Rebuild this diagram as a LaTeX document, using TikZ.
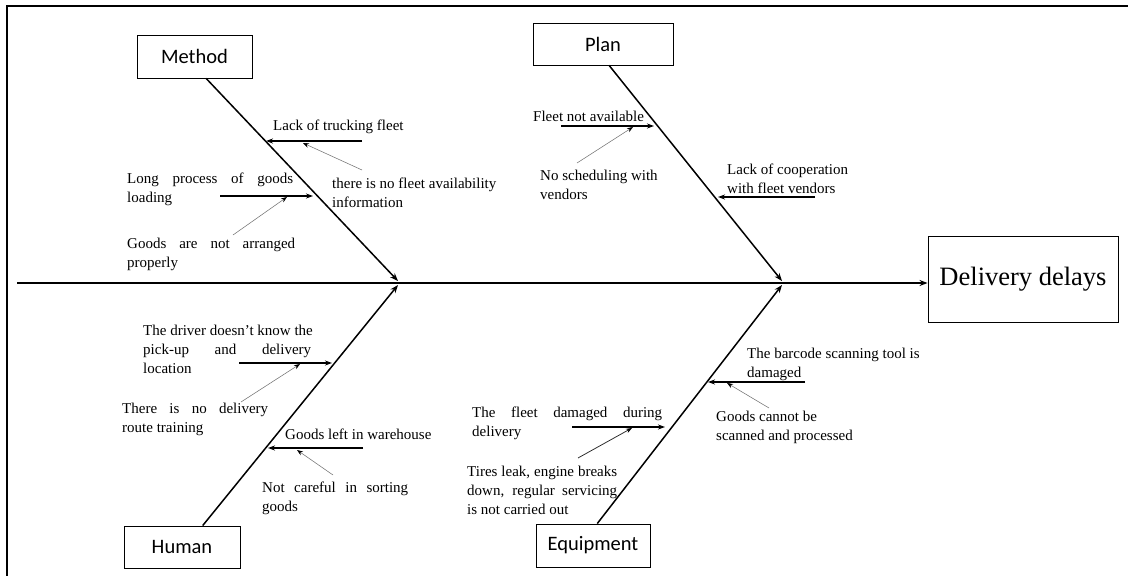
\documentclass[tikz,border=0pt]{standalone}
\usepackage{fontspec}
\setmainfont{Liberation Serif}
\newfontfamily\labelsans{Carlito}
\usetikzlibrary{arrows.meta}
% a line stretched to a given width (justified line)
\newcommand{\jline}[2]{\makebox[#1][s]{#2}}

\begin{document}
\begin{tikzpicture}[x=1pt,y=-1pt,
  catbox/.style={draw, line width=0.9pt, inner sep=0pt,
    font=\labelsans\fontsize{20.5}{24}\selectfont},
  effectbox/.style={draw, line width=0.9pt, inner sep=0pt,
    font=\fontsize{26.5}{30}\selectfont},
  % multi-line labels sit on the baseline of their last line
  cause/.style={anchor=base west, inner sep=0pt, align=left,
    font=\fontsize{15}{19}\selectfont},
  spine/.style={line width=1.5pt, -{Stealth[length=8pt,width=6pt]}},
  bone/.style={line width=1.5pt, -{Stealth[length=8pt,width=6pt]}},
  sub/.style={line width=1.4pt, -{Stealth[length=7pt,width=5pt]}},
  note/.style={line width=0.55pt, draw=black!55,
    -{Stealth[length=6pt,width=4.5pt,black]}},
]
\useasboundingbox (0,0) rectangle (1128,576);

% frame
\draw[line width=1.5pt] (1128,6) -- (7,6) -- (7,576);

% category boxes and effect
\node[catbox, minimum width=115pt, minimum height=43pt] (method) at (194.5,56.5) {Method};
\node[catbox, minimum width=140pt, minimum height=42pt] (plan) at (603,44) {Plan};
\node[catbox, minimum width=116pt, minimum height=42pt] (human) at (182,547) {Human};
\node[catbox, minimum width=114pt, minimum height=43pt] (equip) at (593,545.5) {Equipment};
\node[effectbox, minimum width=190pt, minimum height=86pt] (effect) at (1023,279) {Delivery delays};

% spine and junctions
\coordinate (tail) at (17,283);
\coordinate (mj) at (398,281);
\coordinate (hj) at (398,285);
\coordinate (pj) at (782,281);
\coordinate (ej) at (782,285);
\draw[spine] (tail) -- (tail -| effect.west);

% main bones
\draw[bone] (method.-62) -- (mj);
\draw[bone] (plan.-74) -- (pj);
\draw[bone] (human.46) -- (hj);
\draw[bone] (equip.79) -- (ej);

% ---- Method ----
\coordinate (m1s) at (362,141); \coordinate (m1e) at (266,141);
\coordinate (m1n) at (362,170); \coordinate (m1t) at (303,143);
\coordinate (m2s) at (220,196); \coordinate (m2e) at (313,196);
\coordinate (m2n) at (233,235); \coordinate (m2t) at (287,197);
\draw[sub] (m1s) -- (m1e);
\draw[note] (m1n) -- (m1t);
\draw[sub] (m2s) -- (m2e);
\draw[note] (m2n) -- (m2t);
\node[cause] (t1) at (273,130) {Lack of trucking fleet};
\node[cause] (t2) at (332,207) {there is no fleet availability\\information};
\node[cause] (t3) at (127,202) {\jline{166pt}{Long process of goods}\\loading};
\node[cause] (t4) at (127,267) {\jline{168pt}{Goods are not arranged}\\properly};

% ---- Plan ----
\coordinate (p1s) at (561,126); \coordinate (p1e) at (654,126);
\coordinate (p1n) at (577,163); \coordinate (p1t) at (633,127);
\coordinate (p2s) at (815,197); \coordinate (p2e) at (718,197);
\draw[sub] (p1s) -- (p1e);
\draw[note] (p1n) -- (p1t);
\draw[sub] (p2s) -- (p2e);
\node[cause] (t5) at (533,121) {Fleet not available};
\node[cause] (t6) at (540,199) {No scheduling with\\vendors};
\node[cause] (t7) at (727,193) {Lack of cooperation\\with fleet vendors};

% ---- Human ----
\coordinate (h1s) at (239,363); \coordinate (h1e) at (332,363);
\coordinate (h1n) at (241,402); \coordinate (h1t) at (300,364);
\coordinate (h2s) at (363,448); \coordinate (h2e) at (268,448);
\coordinate (h2n) at (333,475); \coordinate (h2t) at (297,450);
\draw[sub] (h1s) -- (h1e);
\draw[note] (h1n) -- (h1t);
\draw[sub] (h2s) -- (h2e);
\draw[note] (h2n) -- (h2t);
\node[cause] (t8) at (143,373) {The driver doesn't know the\\\jline{168pt}{pick-up and delivery}\\location};
\node[cause] (t9) at (122,432) {\jline{146pt}{There is no delivery}\\route training};
\node[cause] (t10) at (285,439) {Goods left in warehouse};
\node[cause] (t11) at (262,511) {\jline{146pt}{Not careful in sorting}\\goods};

% ---- Equipment ----
\coordinate (e1s) at (805,382); \coordinate (e1e) at (708,382);
\coordinate (e1n) at (769,408); \coordinate (e1t) at (727,383);
\coordinate (e2s) at (572,427); \coordinate (e2e) at (665,427);
\coordinate (e2n) at (578,458); \coordinate (e2t) at (632,428);
\draw[sub] (e1s) -- (e1e);
\draw[note] (e1n) -- (e1t);
\draw[sub] (e2s) -- (e2e);
\draw[note, draw=black!85, line width=0.75pt] (e2n) -- (e2t);
\node[cause] (t12) at (747,377) {The barcode scanning tool is\\damaged};
\node[cause] (t13) at (716,440) {Goods cannot be\\scanned and processed};
\node[cause] (t14) at (472,436) {\jline{190pt}{The fleet damaged during}\\delivery};
\node[cause] (t15) at (467,514) {\jline{150pt}{Tires leak, engine breaks}\\\jline{150pt}{down, regular servicing}\\is not carried out};

\end{tikzpicture}
\end{document}
